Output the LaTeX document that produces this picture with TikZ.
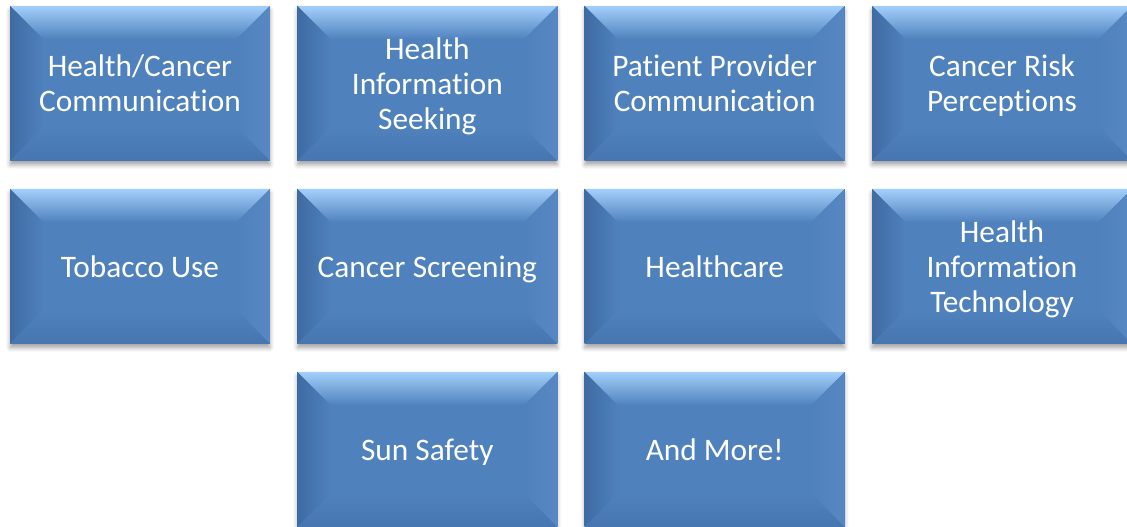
\documentclass[tikz,border=0pt]{standalone}
\usepackage{fontspec}
\setmainfont{Carlito}[Ligatures=NoCommon]
\usetikzlibrary{positioning, shadows.blur}

\definecolor{facebl}{HTML}{4F81BD}
\definecolor{toplt}{HTML}{A3CFFA}
\definecolor{leftdk}{HTML}{3F6BA2}
\definecolor{rightlt}{HTML}{5788C4}
\definecolor{botdk}{HTML}{4676B0}
\newcommand\bevelfont{\fontsize{23.5}{26.25}\selectfont}

\tikzset{
  bevelbox/.style={
    minimum width=195pt, minimum height=116.25pt, inner sep=0pt, outer sep=0pt,
    fill=facebl, text=white, align=center, font=\bevelfont, text depth=0pt,
    blur shadow={shadow xshift=0pt, shadow yshift=-3pt, shadow blur radius=3pt, shadow opacity=35},
    path picture={
      \coordinate (bnw) at (path picture bounding box.north west);
      \coordinate (bne) at (path picture bounding box.north east);
      \coordinate (bsw) at (path picture bounding box.south west);
      \coordinate (bse) at (path picture bounding box.south east);
      % bevel edges
      \shade[top color=toplt, bottom color=facebl] (bnw) -- (bne) -- ([shift={(-25pt,-25pt)}]bne) -- ([shift={(25pt,-25pt)}]bnw) -- cycle;
      \shade[left color=leftdk, right color=facebl] (bnw) -- ([shift={(25pt,-25pt)}]bnw) -- ([shift={(25pt,25pt)}]bsw) -- (bsw) -- cycle;
      \shade[left color=facebl, right color=rightlt] (bne) -- ([shift={(-25pt,-25pt)}]bne) -- ([shift={(-25pt,25pt)}]bse) -- (bse) -- cycle;
      \shade[top color=facebl, bottom color=botdk] (bsw) -- ([shift={(25pt,25pt)}]bsw) -- ([shift={(-25pt,25pt)}]bse) -- (bse) -- cycle;
    }
  }
}

\begin{document}
\begin{tikzpicture}[node distance=137.25pt and 215.5pt, on grid]
  \clip (0,0) rectangle (845.25pt,-395.25pt);
  \node[bevelbox] (comm) at (105pt,-62.6pt) {Health/Cancer\\Communication};
  \node[bevelbox] (seek) [right=of comm] {Health\\Information\\Seeking};
  \node[bevelbox] (ppc) [right=of seek] {Patient Provider\\Communication};
  \node[bevelbox] (risk) [right=of ppc] {Cancer Risk\\Perceptions};

  \node[bevelbox] (tobacco) [below=of comm] {Tobacco Use};
  \node[bevelbox] (screen) [right=of tobacco] {Cancer Screening};
  \node[bevelbox] (care) [right=of screen] {Healthcare};
  \node[bevelbox] (hit) [right=of care] {Health\\Information\\Technology};

  \node[bevelbox] (sun) [below=of screen] {Sun Safety};
  \node[bevelbox] (more) [below=of care] {And More!};
\end{tikzpicture}
\end{document}
